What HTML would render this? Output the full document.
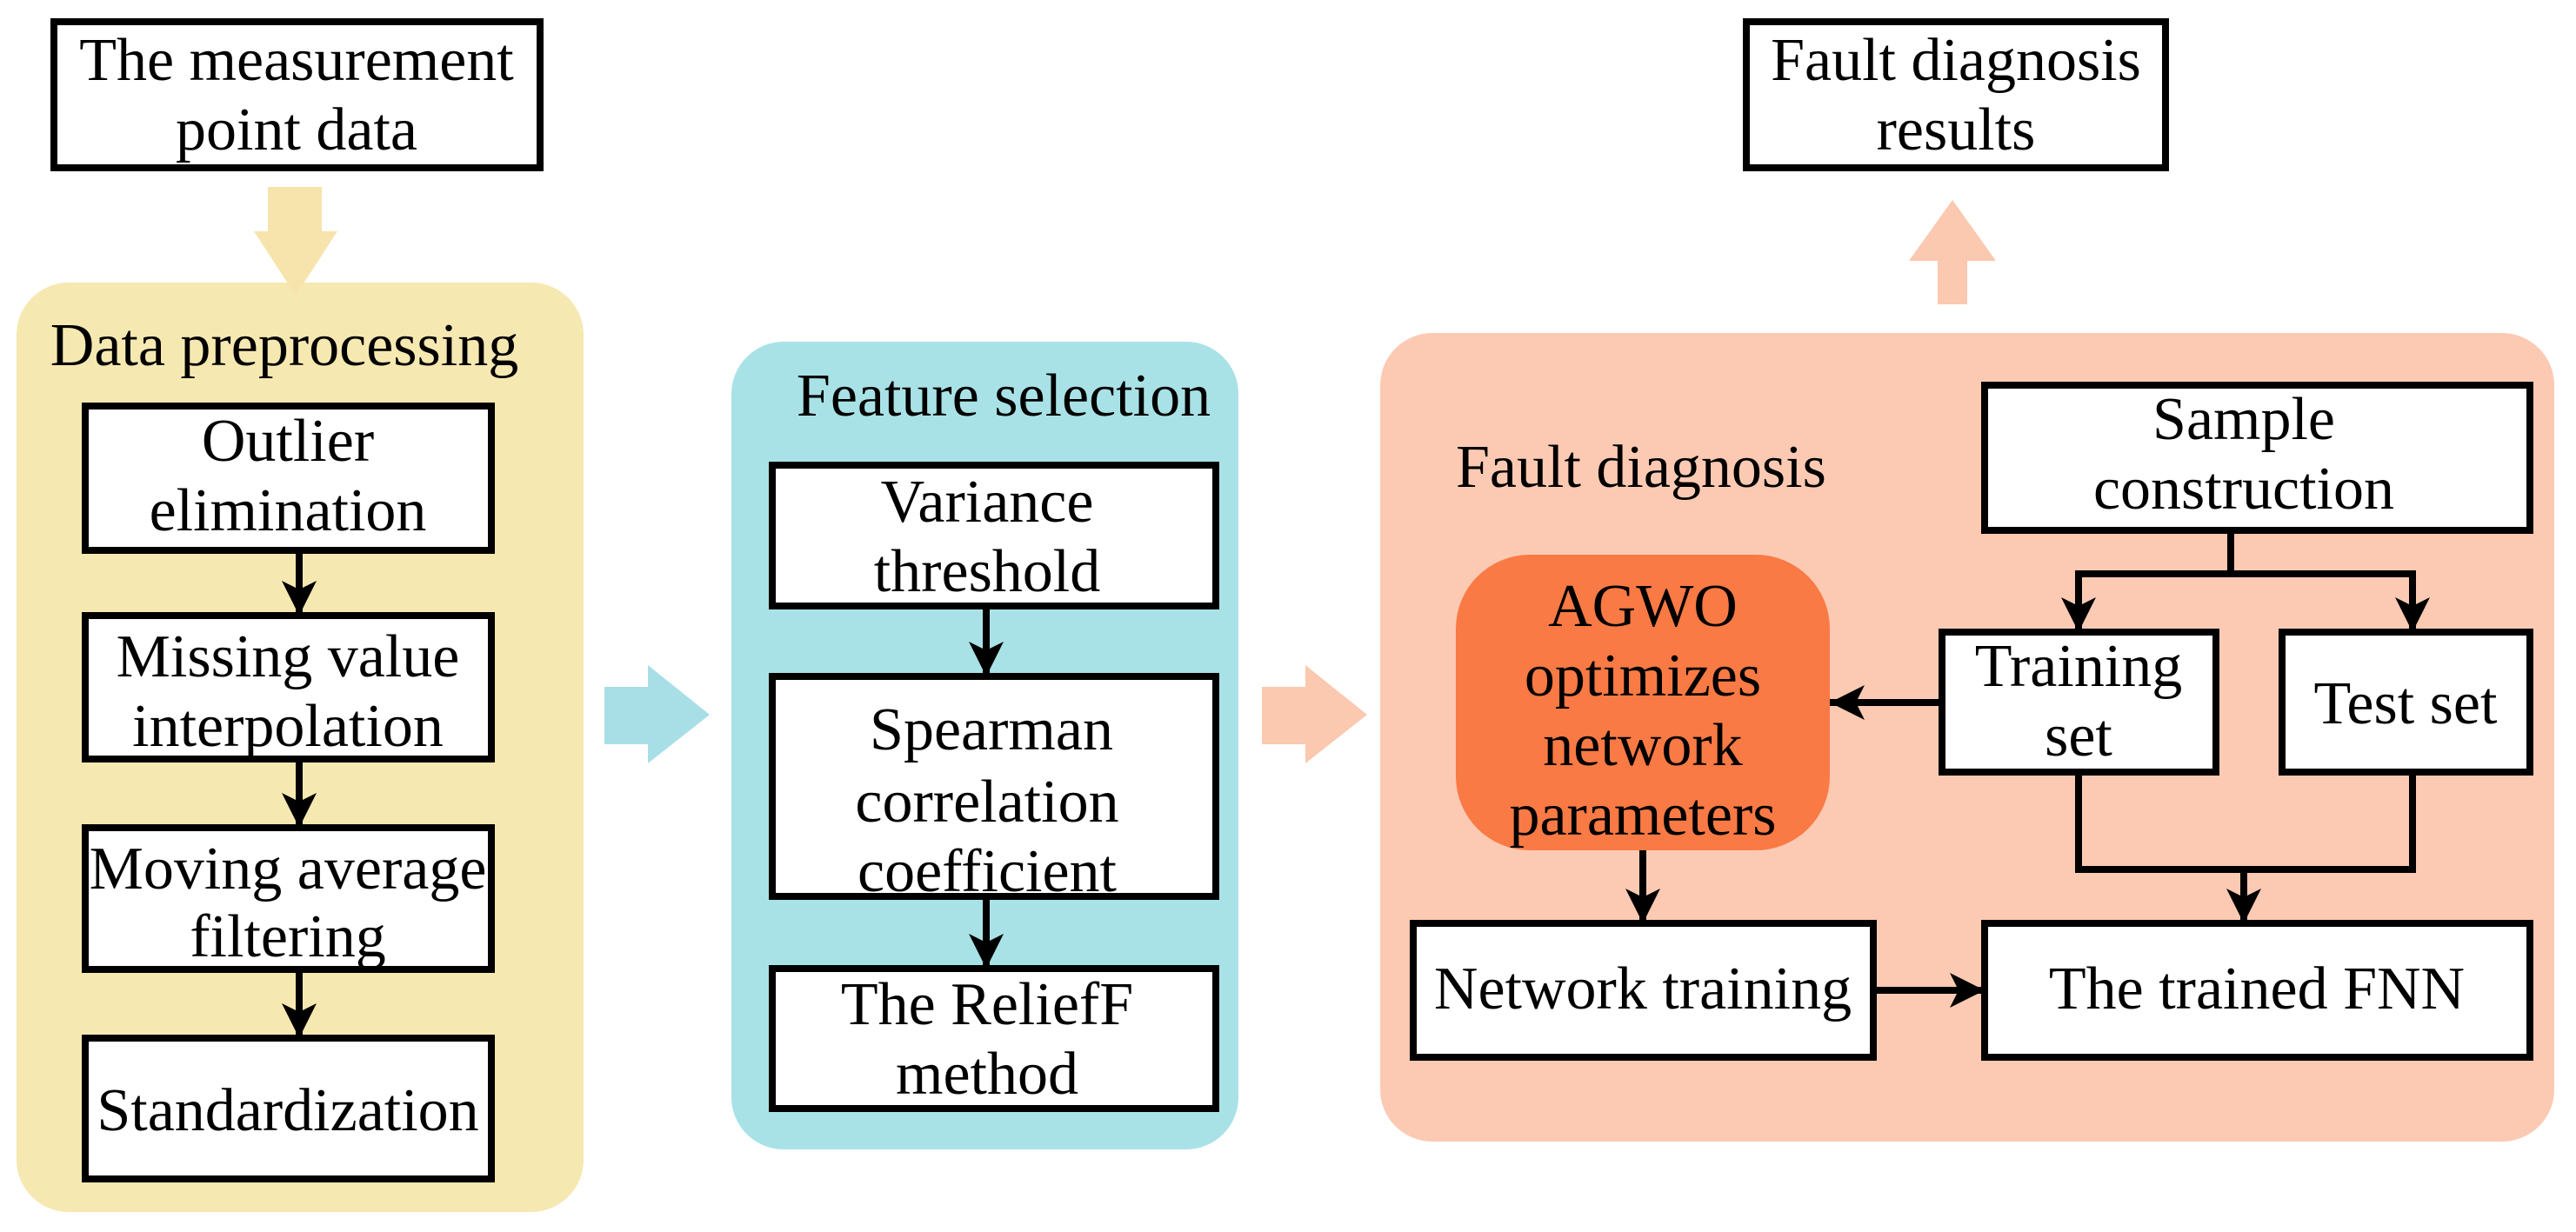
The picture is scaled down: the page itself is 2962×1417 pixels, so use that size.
<!DOCTYPE html>
<html><head><meta charset="utf-8"><style>
html,body{margin:0;padding:0;background:#fff}
svg{display:block;font-family:'Liberation Serif','Noto Serif CJK SC','DejaVu Serif',serif}
text{font-family:'Liberation Serif','Noto Serif CJK SC','DejaVu Serif',serif;font-size:70px;fill:#000;text-anchor:middle}
.b{fill:#fff;stroke:#000;stroke-width:8}
.l{stroke:#000;stroke-width:8;fill:none}
</style></head><body>
<svg width="2962" height="1417" viewBox="0 0 2962 1417" xmlns="http://www.w3.org/2000/svg">
<defs>
<marker id="a" markerUnits="userSpaceOnUse" markerWidth="44" markerHeight="44" refX="40" refY="20" orient="auto"><path d="M0,0 L40,20 L0,40 L10,20 Z" fill="#000"/></marker>
</defs>
<rect x="19" y="325" width="652" height="1069" rx="60" fill="#f6e8b1"/>
<rect x="841" y="393" width="583" height="929" rx="60" fill="#a9e2e6"/>
<rect x="1587" y="383" width="1350" height="930" rx="60" fill="#fccab3"/>
<path d="M308,215 H370 V266 H388 L340,340 L292,266 H308 Z" fill="#f6e4ac"/>
<path d="M695,790 H745 V765 L816,822 L745,878 V856 H695 Z" fill="#a8dfe6"/>
<path d="M1451,790 H1501 V765 L1572,822 L1501,878 V856 H1451 Z" fill="#fbc8b0"/>
<path d="M2228,350 V300 H2195 L2245,230 L2295,300 H2262 V350 Z" fill="#fbc8b0"/>
<rect class="b" x="62" y="25" width="559" height="168"/>
<text x="341" y="92">The measurement</text><text x="341" y="172">point data</text>
<rect class="b" x="2008" y="25" width="482" height="168"/>
<text x="2249" y="92">Fault diagnosis</text><text x="2249" y="172">results</text>
<text x="327" y="420">Data preprocessing</text>
<rect class="b" x="98" y="467" width="467" height="166"/>
<text x="331" y="530">Outlier</text><text x="331" y="610">elimination</text>
<rect class="b" x="98" y="708" width="467" height="165"/>
<text x="331" y="778">Missing value</text><text x="331" y="858">interpolation</text>
<rect class="b" x="98" y="952" width="467" height="163"/>
<text x="331" y="1022">Moving average</text><text x="331" y="1100">filtering</text>
<rect class="b" x="98" y="1194" width="467" height="162"/>
<text x="331" y="1300">Standardization</text>
<line class="l" x1="344" y1="633" x2="344" y2="708" marker-end="url(#a)"/>
<line class="l" x1="344" y1="873" x2="344" y2="952" marker-end="url(#a)"/>
<line class="l" x1="344" y1="1115" x2="344" y2="1194" marker-end="url(#a)"/>
<text x="1154" y="478">Feature selection</text>
<rect class="b" x="888" y="535" width="510" height="162"/>
<text x="1135" y="600">Variance</text><text x="1135" y="680">threshold</text>
<rect class="b" x="888" y="778" width="510" height="253"/>
<text x="1140" y="862">Spearman</text><text x="1135" y="945">correlation</text><text x="1135" y="1025">coefficient</text>
<rect class="b" x="888" y="1114" width="510" height="161"/>
<text x="1135" y="1178">The ReliefF</text><text x="1135" y="1258">method</text>
<line class="l" x1="1134" y1="697" x2="1134" y2="778" marker-end="url(#a)"/>
<line class="l" x1="1134" y1="1031" x2="1134" y2="1114" marker-end="url(#a)"/>
<text x="1674" y="560" style="text-anchor:start">Fault diagnosis</text>
<rect class="b" x="2282" y="443" width="627" height="167"/>
<text x="2580" y="505">Sample</text><text x="2580" y="585">construction</text>
<polyline class="l" points="2565,610 2565,660"/>
<polyline class="l" points="2386,660 2778,660"/>
<line class="l" x1="2390" y1="656" x2="2390" y2="727" marker-end="url(#a)"/>
<line class="l" x1="2774" y1="656" x2="2774" y2="727" marker-end="url(#a)"/>
<rect class="b" x="2233" y="727" width="315" height="161"/>
<text x="2390" y="789">Training</text><text x="2390" y="869">set</text>
<rect class="b" x="2624" y="727" width="285" height="161"/>
<text x="2766" y="832">Test set</text>
<rect x="1674" y="638" width="430" height="340" rx="85" fill="#f97a44"/>
<text x="1889" y="720">AGWO</text><text x="1889" y="800">optimizes</text><text x="1889" y="880">network</text><text x="1889" y="960">parameters</text>
<line class="l" x1="2233" y1="808" x2="2104" y2="808" marker-end="url(#a)"/>
<polyline class="l" points="2390,888 2390,1000 2774,1000 2774,888"/>
<line class="l" x1="2580" y1="1000" x2="2580" y2="1062" marker-end="url(#a)"/>
<line class="l" x1="1889" y1="978" x2="1889" y2="1062" marker-end="url(#a)"/>
<rect class="b" x="1625" y="1062" width="529" height="154"/>
<text x="1889" y="1160">Network training</text>
<rect class="b" x="2282" y="1062" width="627" height="154"/>
<text x="2595" y="1160">The trained FNN</text>
<line class="l" x1="2154" y1="1139" x2="2282" y2="1139" marker-end="url(#a)"/>
</svg>
</body></html>
